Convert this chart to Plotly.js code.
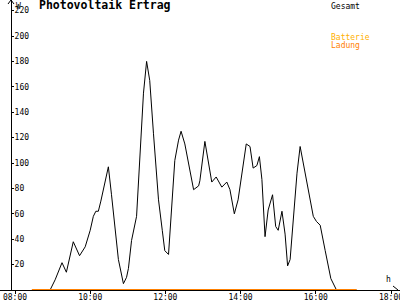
<!DOCTYPE html>
<html>
<head>
<meta charset="utf-8">
<script src="https://cdn.plot.ly/plotly-3.0.1.min.js"></script>
<style>html,body{margin:0;padding:0;background:#fff;}#chart{width:400px;height:300px;}</style>
</head>
<body>
<div id="chart"></div>
<script>
// ---- data ----
const times = ["08:27","08:56","09:04","09:15","09:22","09:33","09:43","09:52","10:00","10:05","10:09","10:13","10:17","10:24","10:29","10:34","10:40","10:45","10:53","10:58","11:01","11:06","11:14","11:19","11:25","11:30","11:35","11:41","11:49","11:55","11:59","12:05","12:10","12:15","12:21","12:25","12:31","12:37","12:45","12:53","12:55","13:03","13:14","13:21","13:30","13:38","13:43","13:50","13:56","14:09","14:15","14:20","14:26","14:30","14:34","14:39","14:44","14:51","14:56","15:00","15:06","15:11","15:15","15:19","15:24","15:30","15:35","15:40","15:48","15:56","16:01","16:07","16:15","16:24","16:33","17:05"];
const gesamt = [0,0,8,21.5,14,38,27,34,47,58,62,62,70,87,97,75,47,24,5,10,17,39,58,102,155,180,165,123,71,47,31,28,63,102,118,125,115,100,79,82,86,117,85,89,81,85,79,60,71,115,113,96,98,105,87,42,63,75,50,47,62,44,19,24,55,92,113,100,79,58,54,51,31,9,0,0];
const ladungTimes = ["08:27","17:05"];
const ladung = [0,0];
const tickHours = [8,10,12,14,16,18];
const tickLabels = ["08:00","10:00","12:00","14:00","16:00","18:00"];
const yTicks = [20,40,60,80,100,120,140,160,180,200,220];

function toHour(t){const p=t.split(":");return +p[0]+(+p[1])/60;}

// pixel helpers for decorations (axis arrows)
const PXH = 37.6, X0 = 15, PXV = 1.27, Y0 = 290;
const hx = px => 8 + (px - X0) / PXH;
const vy = py => (Y0 - py) / PXV;

const mono = "DejaVu Sans Mono";

const traces = [
  {x: times.map(toHour), y: gesamt, type:"scatter", mode:"lines", cliponaxis:false,
   line:{color:"#000000", width:1}, hoverinfo:"skip", showlegend:false},
  {x: ladungTimes.map(toHour), y: ladung, type:"scatter", mode:"lines", cliponaxis:false,
   line:{color:"#FF8000", width:2}, hoverinfo:"skip", showlegend:false}
];

const ln = (x0,y0,x1,y1,c)=>({type:"line", xref:"x", yref:"y", x0:hx(x0), y0:vy(y0), x1:hx(x1), y1:vy(y1), line:{color:c||"#000", width:1}});

const layout = {
  width:400, height:300,
  margin:{l:0, r:0, t:0, b:10},
  paper_bgcolor:"#ffffff", plot_bgcolor:"#ffffff",
  title:{text:"<b>Photovoltaik Ertrag</b>", font:{family:mono, size:11.5, color:"#000"},
         x:39/400, xanchor:"left", xref:"container", y:1-1/300, yanchor:"top", yref:"container"},
  xaxis:{range:[hx(0), hx(400)], tickmode:"array", tickvals:tickHours, ticktext:tickLabels,
         showgrid:false, zeroline:false, showline:true, linecolor:"#000", linewidth:1,
         ticks:"outside", ticklen:3, tickcolor:"#000", ticklabeloverflow:"allow", ticklabelstandoff:-4,
         tickfont:{family:mono, size:8, color:"#000"}},
  yaxis:{range:[0, vy(0)], tickmode:"array", tickvals:yTicks, anchor:"free", position:11/400, side:"right",
         showgrid:false, zeroline:false, showline:true, linecolor:"#000", linewidth:1,
         ticks:"outside", ticklen:2, tickcolor:"#000", ticklabelstandoff:-1,
         tickfont:{family:mono, size:8, color:"#000"}},
  shapes:[
    ln(11,290,11,294),
    ln(11,0,8,4), ln(11,0,14,4),
    ln(398,290,393,286), ln(398,290,393,294)
  ],
  annotations:[
    {text:"W", x:hx(14), y:vy(0), xref:"x", yref:"y", xanchor:"left", yanchor:"top", showarrow:false, font:{family:mono, size:8, color:"#000"}},
    {text:"h", x:hx(388), y:vy(286), xref:"x", yref:"y", xanchor:"center", yanchor:"bottom", showarrow:false, font:{family:mono, size:8, color:"#000"}},
    {text:"Gesamt", x:hx(329), y:vy(0), xref:"x", yref:"y", xanchor:"left", yanchor:"top", showarrow:false, font:{family:mono, size:8, color:"#000"}},
    {text:"Batterie", x:hx(329), y:vy(31), xref:"x", yref:"y", xanchor:"left", yanchor:"top", showarrow:false, font:{family:mono, size:8, color:"#FFB000"}},
    {text:"Ladung", x:hx(329), y:vy(39), xref:"x", yref:"y", xanchor:"left", yanchor:"top", showarrow:false, font:{family:mono, size:8, color:"#FF8000"}}
  ]
};

Plotly.newPlot("chart", traces, layout, {displayModeBar:false, staticPlot:true});
</script>
</body>
</html>
